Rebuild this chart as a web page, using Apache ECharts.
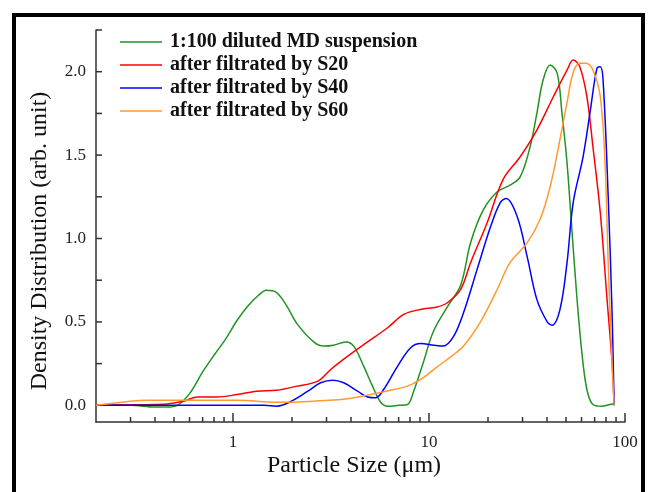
<!DOCTYPE html>
<html>
<head>
<meta charset="utf-8">
<script src="https://cdn.jsdelivr.net/npm/echarts@6/dist/echarts.min.js"></script>
<style>html,body{margin:0;padding:0;background:#fff}#c{width:648px;height:492px}</style>
</head>
<body>
<div id="c"></div>
<script>
const seriesNames = ['1:100 diluted MD suspension', 'after filtrated by S20', 'after filtrated by S40', 'after filtrated by S60'];

const greenX = [0.2, 0.3, 0.4, 0.46, 0.52, 0.6, 0.7, 0.8, 0.92, 1.05, 1.2, 1.35, 1.48, 1.65, 1.85, 2.12, 2.58, 2.9, 3.26, 3.76, 4.13, 4.64, 5.15, 5.66, 6.15, 7.0, 7.77, 8.33, 9.37, 10.5, 12.4, 14.5, 16.3, 18.9, 22.3, 25.9, 29.2, 32.8, 35.5, 38.2, 41.5, 45.1, 47.7, 50.6, 53.6, 56.8, 60.2, 63.9, 68.6, 76.1, 83.7, 88];
const greenY = [0, 0.0, -0.01, -0.01, 0.0, 0.07, 0.2, 0.3, 0.4, 0.51, 0.6, 0.66, 0.69, 0.68, 0.61, 0.49, 0.38, 0.355, 0.36, 0.38, 0.355, 0.235, 0.115, 0.02, -0.005, 0.0, 0.005, 0.08, 0.26, 0.44, 0.59, 0.72, 0.975, 1.17, 1.28, 1.32, 1.37, 1.55, 1.75, 1.95, 2.04, 1.99, 1.75, 1.455, 1.05, 0.65, 0.32, 0.095, 0.005, -0.005, 0.005, 0.01];

const redX = [0.2, 0.3, 0.4, 0.46, 0.56, 0.66, 0.83, 1.05, 1.32, 1.67, 2.12, 2.71, 3.15, 3.85, 4.86, 6.15, 7.43, 9.06, 11.0, 12.4, 14.5, 16.3, 19.8, 23.9, 29.2, 35.5, 43.1, 50.6, 54.4, 58.8, 63.9, 68.6, 74.8, 80.8, 85.9, 88];
const redY = [0, 0.003, 0.005, 0.008, 0.025, 0.05, 0.05, 0.065, 0.085, 0.09, 0.115, 0.145, 0.215, 0.295, 0.38, 0.465, 0.545, 0.575, 0.59, 0.615, 0.695, 0.855, 1.095, 1.355, 1.49, 1.65, 1.85, 2.01, 2.07, 2.03, 1.85, 1.55, 1.155, 0.65, 0.255, 0];

const blueX = [0.2, 0.5, 1.0, 1.44, 1.67, 1.95, 2.41, 2.8, 3.23, 3.67, 4.32, 4.86, 5.34, 5.87, 6.92, 8.06, 9.06, 10.6, 11.8, 13.3, 15.0, 17.6, 20.6, 23.1, 24.8, 28.2, 31.7, 35.5, 40.1, 42.4, 46.6, 50.6, 54.4, 61.1, 66.3, 71.9, 74.8, 77.3, 82.1, 85.9, 88];
const blueY = [0, 0, 0, 0, -0.005, 0.02, 0.085, 0.135, 0.15, 0.135, 0.085, 0.05, 0.045, 0.095, 0.235, 0.345, 0.37, 0.36, 0.355, 0.41, 0.555, 0.815, 1.07, 1.215, 1.24, 1.13, 0.89, 0.635, 0.5, 0.48, 0.575, 0.855, 1.215, 1.49, 1.755, 2.02, 2.03, 1.95, 1.25, 0.555, 0];

const orangeX = [0.2, 0.3, 0.365, 0.6, 1.05, 1.67, 2.58, 3.85, 5.04, 6.36, 7.77, 9.06, 11.0, 12.9, 15.0, 18.3, 22.3, 25.9, 31.7, 36.9, 41.5, 46.6, 50.6, 54.4, 58.8, 63.1, 68.6, 74.8, 79.1, 82.1, 85.9, 88];
const orangeY = [0, 0.025, 0.03, 0.03, 0.03, 0.018, 0.025, 0.04, 0.065, 0.09, 0.115, 0.155, 0.23, 0.29, 0.355, 0.5, 0.695, 0.855, 0.975, 1.115, 1.31, 1.595, 1.815, 1.995, 2.05, 2.05, 2.01, 1.85, 1.455, 0.855, 0.255, 0];

const xMin = 0.2, xMax = 100;
const xMajorTicks = [1, 10, 100];
const xMinorTicks = [0.3, 0.4, 0.5, 0.6, 0.7, 0.8, 0.9, 2, 3, 4, 5, 6, 7, 8, 9, 20, 30, 40, 50, 60, 70, 80, 90];
const yMin = -0.1, yMax = 2.25;
const yLabels = [0, 0.5, 1.0, 1.5, 2.0];
const yTicks = [0, 0.25, 0.5, 0.75, 1.0, 1.25, 1.5, 1.75, 2.0, 2.25];
const colors = ['#229322', '#ff0000', '#0000ff', '#ff9a2e'];

const zip = (xs, ys) => xs.map((x, i) => [x, ys[i]]);
const seriesData = [zip(greenX, greenY), zip(redX, redY), zip(blueX, blueY), zip(orangeX, orangeY)];

const FONT = '"Liberation Serif", "Times New Roman", serif';
const chart = echarts.init(document.getElementById('c'), null, {renderer: 'canvas'});
const staticGraphics = [{
  type: 'text', x: 40, y: 241, rotation: Math.PI / 2,
  style: {text: 'Density Distribution (arb. unit)', font: '24px ' + FONT, fill: '#111', align: 'center', verticalAlign: 'middle'}
}, {
  type: 'text', x: 354, y: 466,
  style: {text: 'Particle Size (\u03bcm)', font: '24px ' + FONT, fill: '#111', align: 'center', verticalAlign: 'middle'}
}, {
  type: 'rect', z: 100,
  shape: {x: 14, y: 15, width: 629, height: 520},
  style: {fill: 'none', stroke: '#000', lineWidth: 4}
}];
chart.setOption({
  animation: false,
  backgroundColor: '#fff',
  grid: {left: 96, right: 23, top: 30, bottom: 70, containLabel: false},
  legend: {
    orient: 'vertical', left: 120, top: 32, padding: 0,
    icon: 'rect', itemWidth: 42, itemHeight: 1.5, itemGap: 3,
    textStyle: {fontFamily: FONT, fontWeight: 'bold', fontSize: 20, lineHeight: 20, color: '#111', padding: [0, 0, 0, 3]},
    data: seriesNames
  },
  xAxis: {
    type: 'log', logBase: 10, min: xMin, max: xMax,
    axisLine: {onZero: false, lineStyle: {color: '#333', width: 1.5}},
    axisTick: {show: false},
    axisLabel: {customValues: xMajorTicks, fontFamily: FONT, fontSize: 17, color: '#222', margin: 12, formatter: v => String(Math.round(v))},
    splitLine: {show: false}
  },
  yAxis: {
    type: 'value', min: yMin, max: yMax,
    axisLine: {show: true, onZero: false, lineStyle: {color: '#333', width: 1.5}},
    axisTick: {show: false},
    axisLabel: {customValues: yLabels, fontFamily: FONT, fontSize: 17, color: '#222', margin: 10, formatter: v => v.toFixed(1)},
    splitLine: {show: false}
  },
  series: seriesData.map((d, i) => ({
    name: seriesNames[i], type: 'line', data: d,
    symbol: 'none', smooth: 0.35,
    lineStyle: {color: colors[i], width: 1.5}, itemStyle: {color: colors[i]}
  })),
  graphic: staticGraphics
});

// tick marks placed through the chart's own axis scales
const tickStyle = {stroke: '#333', lineWidth: 1.5};
const y0 = chart.convertToPixel({yAxisIndex: 0}, yMin);
const x0 = chart.convertToPixel({xAxisIndex: 0}, xMin);
const tickEls = [];
xMajorTicks.forEach(v => {
  const px = chart.convertToPixel({xAxisIndex: 0}, v);
  tickEls.push({type: 'line', shape: {x1: px, y1: y0, x2: px, y2: y0 - 9}, style: tickStyle});
});
xMinorTicks.forEach(v => {
  const px = chart.convertToPixel({xAxisIndex: 0}, v);
  tickEls.push({type: 'line', shape: {x1: px, y1: y0, x2: px, y2: y0 - 5}, style: tickStyle});
});
yTicks.forEach(v => {
  const py = chart.convertToPixel({yAxisIndex: 0}, v);
  tickEls.push({type: 'line', shape: {x1: x0, y1: py, x2: x0 + 6, y2: py}, style: tickStyle});
});
chart.setOption({graphic: staticGraphics.concat(tickEls)});
</script>
</body>
</html>
